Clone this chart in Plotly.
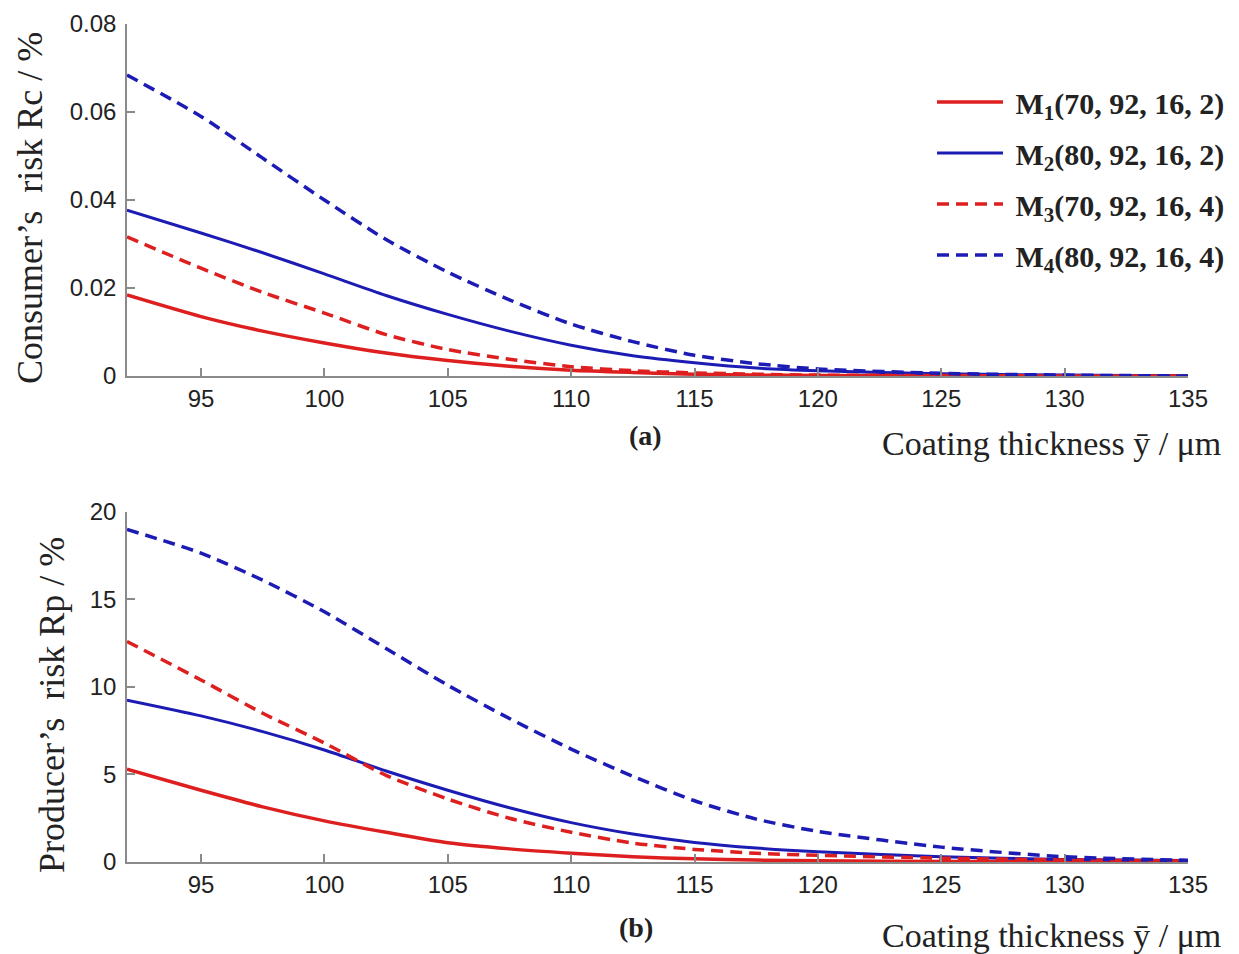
import plotly.graph_objects as go
from plotly.subplots import make_subplots

x = [92, 95, 97.5, 100, 102.5, 105, 107.5, 110, 112.5, 115, 117.5, 120, 125, 130, 135]

rc_m1 = [0.0184, 0.0135, 0.0102, 0.0075, 0.0052, 0.0035, 0.0022, 0.0013, 0.0008, 0.0004, 0.0002, 0.0001, 0.0, 0.0, 0.0]
rc_m2 = [0.0377, 0.0325, 0.0280, 0.0232, 0.0183, 0.0140, 0.0102, 0.0070, 0.0046, 0.0030, 0.0018, 0.0012, 0.0005, 0.0002, 0.0]
rc_m3 = [0.0316, 0.0245, 0.0190, 0.0143, 0.0094, 0.0060, 0.0038, 0.0021, 0.0012, 0.0007, 0.0004, 0.0002, 0.0001, 0.0, 0.0]
rc_m4 = [0.0684, 0.0590, 0.0495, 0.0400, 0.0310, 0.0236, 0.0173, 0.0118, 0.0078, 0.0047, 0.0028, 0.0016, 0.0006, 0.0002, 0.0]

rp_m1 = [5.3, 4.1, 3.15, 2.35, 1.7, 1.1, 0.75, 0.5, 0.3, 0.18, 0.11, 0.07, 0.03, 0.02, 0.01]
rp_m2 = [9.25, 8.35, 7.45, 6.4, 5.2, 4.1, 3.1, 2.25, 1.6, 1.12, 0.8, 0.58, 0.3, 0.15, 0.08]
rp_m3 = [12.6, 10.4, 8.5, 6.8, 4.95, 3.6, 2.5, 1.7, 1.08, 0.72, 0.5, 0.38, 0.22, 0.12, 0.06]
rp_m4 = [19.0, 17.65, 16.1, 14.3, 12.2, 10.1, 8.2, 6.45, 4.9, 3.5, 2.45, 1.75, 0.85, 0.3, 0.1]

names = ["M<sub>1</sub>(70, 92, 16, 2)", "M<sub>2</sub>(80, 92, 16, 2)",
         "M<sub>3</sub>(70, 92, 16, 4)", "M<sub>4</sub>(80, 92, 16, 4)"]
xticks = [95, 100, 105, 110, 115, 120, 125, 130, 135]
rc_ticks = [0, 0.02, 0.04, 0.06, 0.08]
rc_ticktext = ["0", "0.02", "0.04", "0.06", "0.08"]
rp_ticks = [0, 5, 10, 15, 20]

RED = "#de1f1f"
BLUE = "#1c1cb4"
styles = [(RED, "solid", 3.5), (BLUE, "solid", 3), (RED, "12px,7px", 3.5), (BLUE, "12px,7px", 3.5)]

fig = make_subplots(rows=2, cols=1, vertical_spacing=0.0)

rc = [rc_m1, rc_m2, rc_m3, rc_m4]
rp = [rp_m1, rp_m2, rp_m3, rp_m4]
for i in range(4):
    c, d, w = styles[i]
    fig.add_trace(go.Scatter(x=x, y=rc[i], mode="lines", name=" " + names[i], legendgroup=f"g{i}",
                             line=dict(color=c, dash=d, width=w, shape="spline", smoothing=0.7)),
                  row=1, col=1)
for i in range(4):
    c, d, w = styles[i]
    fig.add_trace(go.Scatter(x=x, y=rp[i], mode="lines", name=names[i], legendgroup=f"g{i}",
                             showlegend=False,
                             line=dict(color=c, dash=d, width=w, shape="spline", smoothing=0.7)),
                  row=2, col=1)

axis_common = dict(showline=True, linecolor="#8a8a8a", linewidth=1.5, ticks="inside",
                   tickcolor="#8a8a8a", ticklen=8, tickwidth=1.5, showgrid=False, zeroline=False,
                   tickfont=dict(family="Liberation Sans", size=24, color="#222"), mirror=False,
                   automargin=False)

fig.update_xaxes(range=[92, 135], tickvals=xticks, **axis_common)
fig.update_yaxes(ticklabelstandoff=4, **axis_common)
fig.update_xaxes(domain=[0, 1])
fig.update_yaxes(range=[0, 0.08], tickvals=rc_ticks, ticktext=rc_ticktext, domain=[0.58, 1.0],
                 row=1, col=1)
fig.update_yaxes(range=[0, 20], tickvals=rp_ticks, domain=[0.0, 0.4177], row=2, col=1)

serif = "Liberation Serif"
# page pixel -> paper coordinates (plot area: x 127..1188, y 24..862 on the page)
def px(v):
    return (v - 127) / 1061
def py(v):
    return (862 - v) / 838

fig.add_annotation(text="Consumer’s  risk Rc / %", textangle=-90, xref="paper", yref="paper",
                   x=px(30), y=py(208), xanchor="center", yanchor="middle", showarrow=False,
                   font=dict(family=serif, size=36, color="#222"))
fig.add_annotation(text="Producer’s  risk Rp / %", textangle=-90, xref="paper", yref="paper",
                   x=px(52), y=py(705), xanchor="center", yanchor="middle", showarrow=False,
                   font=dict(family=serif, size=36, color="#222"))
fig.add_annotation(text="<b>(a)</b>", x=px(645), y=py(435), xref="paper", yref="paper",
                   showarrow=False, xanchor="center", yanchor="middle",
                   font=dict(family=serif, size=28, color="#222"))
fig.add_annotation(text="<b>(b)</b>", x=px(636), y=py(927), xref="paper", yref="paper",
                   showarrow=False, xanchor="center", yanchor="middle",
                   font=dict(family=serif, size=28, color="#222"))
fig.add_annotation(text="Coating thickness ȳ / μm", x=px(1223), y=py(443),
                   xref="paper", yref="paper", showarrow=False, xanchor="right", yanchor="middle",
                   font=dict(family=serif, size=34, color="#222"))
fig.add_annotation(text="Coating thickness ȳ / μm", x=px(1223), y=py(935),
                   xref="paper", yref="paper", showarrow=False, xanchor="right", yanchor="middle",
                   font=dict(family=serif, size=34, color="#222"))

fig.update_layout(
    width=1239, height=954,
    margin=dict(l=127, r=51, t=24, b=92, autoexpand=False),
    paper_bgcolor="white", plot_bgcolor="white",
    showlegend=True,
    legend=dict(x=px(932), y=py(76), xanchor="left", yanchor="top",
                bgcolor="rgba(0,0,0,0)", tracegroupgap=9, itemwidth=66,
                font=dict(family=serif, size=30, color="#222", weight="bold")),
)

fig.write_html("out.html", config={"displayModeBar": False},
               post_script="document.body.style.margin='0';document.body.style.overflow='hidden';")
